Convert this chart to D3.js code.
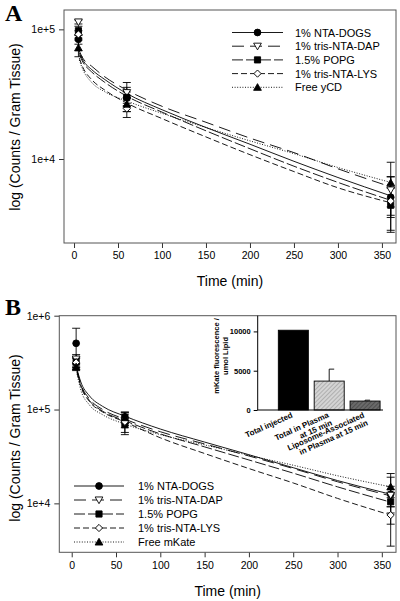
<!DOCTYPE html>
<html><head><meta charset="utf-8">
<script src="https://cdn.jsdelivr.net/npm/d3@7"></script>
<style>
body{margin:0;background:#fff;}
text{font-family:"Liberation Sans",Arial,sans-serif;fill:#000;}
</style>
</head><body>
<script>
// ---------- data ----------
const seriesNames = ["1% NTA-DOGS", "1% tris-NTA-DAP", "1.5% POPG", "1% tris-NTA-LYS"];
const freeNameA = "Free yCD";
const freeNameB = "Free mKate";
const sampleTimes = [5, 60, 360];
const fitTimes = [6, 10, 20, 35, 60, 100, 150, 200, 250, 300, 360];
const xTicks = [0, 50, 100, 150, 200, 250, 300, 350];
const yTicksA = [1e4, 1e5];
const yTickLabelsA = ["1e+4", "1e+5"];
const yTicksB = [1e4, 1e5, 1e6];
const yTickLabelsB = ["1e+4", "1e+5", "1e+6"];

// Panel A measured means / errors
const aDOGS = [83800, 29900, 5070];
const aDAP = [114000, 32500, 5770];
const aPOPG = [97600, 29900, 4400];
const aLYS = [91500, 24500, 4740];
const aFree = [72000, 26500, 6560];
const aDOGSerr = [7000, 3000, 2250];
const aDAPerr = [4000, 3200, 1500];
const aPOPGerr = [8000, 9000, 1680];
const aLYSerr = [6000, 1300, 1200];
const aFreeErr = [10500, 3300, 2880];
// Panel A fitted curves
const aDOGSfit = [66000, 58000, 49000, 41000, 32000, 24000, 17500, 13000, 9600, 7200, 5200];
const aDAPfit = [68000, 60000, 52000, 43000, 34000, 25500, 19200, 14500, 11200, 8400, 6100];
const aPOPGfit = [64000, 56000, 47000, 39000, 30500, 23000, 16500, 12000, 8800, 6600, 4800];
const aLYSfit = [60000, 51000, 41000, 34000, 27000, 20500, 14800, 10800, 8000, 6000, 4600];
const aFreeFit = [58000, 49000, 39000, 33000, 28000, 22500, 17500, 13800, 11000, 8600, 6600];

// Panel B measured means / errors
const bDOGS = [508000, 83600, 12500];
const bDAP = [345000, 76000, 12200];
const bPOPG = [320000, 69000, 10400];
const bLYS = [318000, 74000, 7500];
const bFree = [285000, 82000, 15000];
const bDOGSerr = [227000, 10000, 6500];
const bDAPerr = [40000, 12000, 3000];
const bPOPGerr = [30000, 12000, 2500];
const bLYSerr = [40000, 20000, 4000];
const bFreeErr = [25000, 10000, 5800];
// Panel B fitted curves
const bDOGSfit = [270000, 200000, 140000, 108000, 85000, 62000, 45000, 33000, 24000, 17500, 12500];
const bDAPfit = [260000, 190000, 130000, 100000, 79000, 58000, 43000, 32000, 23500, 17000, 12000];
const bPOPGfit = [255000, 185000, 125000, 96000, 76000, 55000, 40000, 29000, 21000, 15000, 10300];
const bLYSfit = [250000, 180000, 122000, 94000, 74000, 50000, 34000, 23500, 16500, 11300, 7500];
const bFreeFit = [240000, 165000, 112000, 88000, 70000, 54000, 42000, 32500, 25500, 19700, 15000];

// Inset bar chart
const insetLabels = [["Total injected"], ["Total in Plasma", "at 15 min"], ["Liposome-Associated", "in Plasma at 15 min"]];
const insetValues = [10150, 3680, 1140];
const insetErr = [0, 1520, 110];
const insetTicks = [0, 5000, 10000];

// ---------- styles ----------
const markerTypes = ["circle", "tdown", "square", "diamond", "tup"];
const dashes = [null, "12,6", "11,3", "6,3", "1,1.6"];

const svg = d3.select("body").append("svg").attr("width", 400).attr("height", 601);

function symbolPath(type) {
  if (type === "circle") return d3.symbol().type(d3.symbolCircle).size(36)();
  if (type === "square") return d3.symbol().type(d3.symbolSquare).size(38)();
  if (type === "tdown" || type === "tup") return d3.symbol().type(d3.symbolTriangle).size(26)();
  return d3.symbol().type(d3.symbolSquare).size(26)();
}
function drawMarker(g, type, x, y) {
  const open = (type === "tdown" || type === "diamond");
  let rot = 0;
  if (type === "tdown") rot = 180;
  if (type === "diamond") rot = 45;
  const dy = type === "tup" ? 0.8 : (type === "tdown" ? -0.8 : 0);
  g.append("path").attr("d", symbolPath(type))
    .attr("transform", `translate(${x},${y + dy}) rotate(${rot})`)
    .attr("fill", open ? "#fff" : "#000").attr("stroke", "#000").attr("stroke-width", 0.9);
}

function drawPanel(cfg) {
  const g = svg.append("g");
  const x = d3.scaleLinear().domain(cfg.xDomain).range([cfg.left, cfg.right]);
  const y = d3.scaleLog().domain(cfg.yDomain).range([cfg.bottom, cfg.top]);

  const clipId = "clip" + cfg.id;
  svg.append("clipPath").attr("id", clipId).append("rect")
    .attr("x", cfg.left).attr("y", cfg.top).attr("width", cfg.right - cfg.left).attr("height", cfg.bottom - cfg.top);

  const xAxis = d3.axisBottom(x).tickValues(xTicks).tickSize(5).tickPadding(4).tickFormat(d3.format("d"));
  const gx = g.append("g").attr("transform", `translate(0,${cfg.bottom})`).call(xAxis);
  gx.select(".domain").remove();
  gx.selectAll("text").attr("font-size", 10.5).attr("font-family", "Liberation Sans, Arial, sans-serif");
  gx.selectAll("line").attr("stroke", "#333");

  const yAxis = d3.axisLeft(y).tickValues(cfg.yTicks).tickSize(5).tickPadding(4)
    .tickFormat((d, i) => cfg.yTickLabels[i]);
  const gy = g.append("g").attr("transform", `translate(${cfg.left},0)`).call(yAxis);
  gy.select(".domain").remove();
  gy.selectAll("text").attr("font-size", 10.5).attr("font-family", "Liberation Sans, Arial, sans-serif");
  gy.selectAll("line").attr("stroke", "#333");

  g.append("rect").attr("x", cfg.left).attr("y", cfg.top)
    .attr("width", cfg.right - cfg.left).attr("height", cfg.bottom - cfg.top)
    .attr("fill", "none").attr("stroke", "#555").attr("stroke-width", 1);

  const line = d3.line().x(d => x(d.t)).y(d => y(d.v)).curve(d3.curveMonotoneX);
  const cg = g.append("g").attr("clip-path", `url(#${clipId})`);
  cfg.series.forEach((s, i) => {
    const pts = fitTimes.map((t, k) => ({t, v: s.fit[k]}));
    cg.append("path").attr("d", line(pts)).attr("fill", "none")
      .attr("stroke", "#000").attr("stroke-width", 0.9)
      .attr("stroke-dasharray", dashes[i]);
  });

  cfg.series.forEach((s, i) => {
    sampleTimes.forEach((t, k) => {
      const xv = x(t);
      const hi = y(s.mean[k] + s.err[k]);
      const lo = y(Math.max(s.mean[k] - s.err[k], cfg.yDomain[0]));
      g.append("line").attr("x1", xv).attr("x2", xv).attr("y1", hi).attr("y2", lo).attr("stroke", "#000").attr("stroke-width", 0.9);
      [hi, lo].forEach(yy => g.append("line").attr("x1", xv - 4).attr("x2", xv + 4).attr("y1", yy).attr("y2", yy).attr("stroke", "#000").attr("stroke-width", 0.9));
    });
  });
  cfg.series.forEach((s, i) => {
    sampleTimes.forEach((t, k) => drawMarker(g, markerTypes[i], x(t), y(s.mean[k])));
  });

  cfg.series.forEach((s, i) => {
    const ly = cfg.legY + i * cfg.legStep;
    g.append("line").attr("x1", cfg.legX0).attr("x2", cfg.legX1).attr("y1", ly).attr("y2", ly)
      .attr("stroke", "#000").attr("stroke-width", 0.9).attr("stroke-dasharray", dashes[i]);
    drawMarker(g, markerTypes[i], (cfg.legX0 + cfg.legX1) / 2, ly);
    g.append("text").attr("x", cfg.legText).attr("y", ly + 4).attr("font-size", 11).text(s.name);
  });

  g.append("text").attr("x", (cfg.left + cfg.right) / 2).attr("y", cfg.xTitleY)
    .attr("text-anchor", "middle").attr("font-size", 14).text("Time (min)");
  g.append("text").attr("transform", `translate(${cfg.yTitleX},${cfg.yTitleCY}) rotate(-90)`)
    .attr("text-anchor", "middle").attr("font-size", 14).text("log (Counts / Gram Tissue)");
  g.append("text").attr("x", 5).attr("y", cfg.letterY).attr("font-size", 24).attr("font-weight", "bold")
    .style("font-family", "Liberation Serif, Times New Roman, serif").text(cfg.letter);
}

const namesA = seriesNames.concat([freeNameA]);
const namesB = seriesNames.concat([freeNameB]);
const meansA = [aDOGS, aDAP, aPOPG, aLYS, aFree];
const errsA = [aDOGSerr, aDAPerr, aPOPGerr, aLYSerr, aFreeErr];
const fitsA = [aDOGSfit, aDAPfit, aPOPGfit, aLYSfit, aFreeFit];
const meansB = [bDOGS, bDAP, bPOPG, bLYS, bFree];
const errsB = [bDOGSerr, bDAPerr, bPOPGerr, bLYSerr, bFreeErr];
const fitsB = [bDOGSfit, bDAPfit, bPOPGfit, bLYSfit, bFreeFit];

drawPanel({
  id: "A", letter: "A", letterY: 21,
  left: 64, right: 396, top: 10, bottom: 243,
  xDomain: [-11.4, 366], yDomain: [2250, 141000],
  yTicks: yTicksA, yTickLabels: yTickLabelsA,
  series: namesA.map((n, i) => ({name: n, mean: meansA[i], err: errsA[i], fit: fitsA[i]})),
  legX0: 232, legX1: 283, legText: 295, legY: 32.5, legStep: 13.7,
  xTitleY: 286, yTitleX: 20, yTitleCY: 127
});

drawPanel({
  id: "B", letter: "B", letterY: 315,
  left: 59.3, right: 396, top: 315.7, bottom: 552.3,
  xDomain: [-14, 366], yDomain: [3010, 1e6],
  yTicks: yTicksB, yTickLabels: yTickLabelsB,
  series: namesB.map((n, i) => ({name: n, mean: meansB[i], err: errsB[i], fit: fitsB[i]})),
  legX0: 74, legX1: 124, legText: 138, legY: 486, legStep: 14,
  xTitleY: 596, yTitleX: 20, yTitleCY: 438
});

// ---------- inset ----------
const defs = svg.append("defs");
const p1 = defs.append("pattern").attr("id", "hatchLight").attr("patternUnits", "userSpaceOnUse")
  .attr("width", 3).attr("height", 3).attr("patternTransform", "rotate(45)");
p1.append("rect").attr("width", 3).attr("height", 3).attr("fill", "#d4d4d4");
p1.append("line").attr("x1", 0).attr("y1", 0).attr("x2", 0).attr("y2", 3).attr("stroke", "#8a8a8a").attr("stroke-width", 1);
const p2 = defs.append("pattern").attr("id", "hatchDark").attr("patternUnits", "userSpaceOnUse")
  .attr("width", 3).attr("height", 3).attr("patternTransform", "rotate(45)");
p2.append("rect").attr("width", 3).attr("height", 3).attr("fill", "#6a6a6a");
p2.append("line").attr("x1", 0).attr("y1", 0).attr("x2", 0).attr("y2", 3).attr("stroke", "#333").attr("stroke-width", 1);
const barFills = ["#000", "url(#hatchLight)", "url(#hatchDark)"];

const ig = svg.append("g");
const ix = d3.scaleBand().domain(d3.range(insetValues.length)).range([275.4, 383]).paddingInner(0.163).paddingOuter(0.0815);
const iy = d3.scaleLinear().domain([0, 12000]).range([410, 315.7]);

ig.selectAll("rect.bar").data(insetValues).join("rect").attr("class", "bar")
  .attr("x", (d, i) => ix(i)).attr("width", ix.bandwidth())
  .attr("y", d => iy(d)).attr("height", d => iy(0) - iy(d))
  .attr("fill", (d, i) => barFills[i]).attr("stroke", "#000").attr("stroke-width", 0.9);

insetValues.forEach((v, i) => {
  if (!insetErr[i]) return;
  const cx = ix(i) + ix.bandwidth() / 2;
  ig.append("line").attr("x1", cx).attr("x2", cx).attr("y1", iy(v)).attr("y2", iy(v + insetErr[i])).attr("stroke", "#000").attr("stroke-width", 0.9);
  ig.append("line").attr("x1", cx).attr("x2", cx + 5).attr("y1", iy(v + insetErr[i])).attr("y2", iy(v + insetErr[i])).attr("stroke", "#000").attr("stroke-width", 0.9);
});

const iyAxis = d3.axisLeft(iy).tickValues(insetTicks).tickSize(4).tickPadding(3).tickFormat(d3.format("d"));
const giy = ig.append("g").attr("transform", "translate(257.7,0)").call(iyAxis);
giy.selectAll("text").attr("font-size", 7.5).attr("font-weight", "bold").attr("font-family", "Liberation Sans, Arial, sans-serif");
giy.select(".domain").attr("d", "M0,315.7V410");
ig.append("line").attr("x1", 257.7).attr("x2", 383).attr("y1", 410).attr("y2", 410).attr("stroke", "#000").attr("stroke-width", 1);

ig.append("g").attr("transform", "translate(219,356) rotate(-90)")
  .append("text").attr("text-anchor", "middle").attr("font-size", 7.5).attr("font-weight", "bold").text("mKate fluorescence /");
ig.append("g").attr("transform", "translate(228,356) rotate(-90)")
  .append("text").attr("text-anchor", "middle").attr("font-size", 7.5).attr("font-weight", "bold").text("umol Lipid");

insetLabels.forEach((lines, i) => {
  const cx = ix(i) + ix.bandwidth() / 2;
  const lg = ig.append("g").attr("transform", `translate(${cx},417) rotate(-24)`);
  lines.forEach((ln, k) => lg.append("text").attr("x", 0).attr("y", k * 8.5)
    .attr("text-anchor", "end").attr("font-size", 8).attr("font-weight", "bold").text(ln));
});
</script>
</body></html>
